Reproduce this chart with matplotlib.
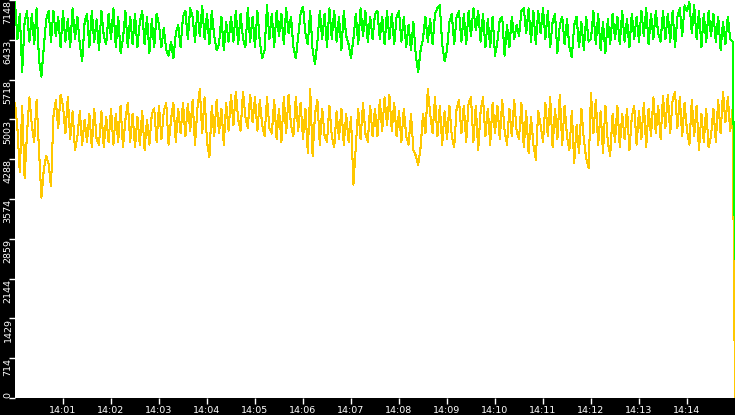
import matplotlib
matplotlib.use("Agg")
import matplotlib.pyplot as plt
import pandas as pd

# ---- data ----
start_time = "2024-01-01 14:00:00"
sample_seconds = 3

green_values = [
    7120, 6450, 6900, 5860, 6750, 6950, 6400, 6900, 6350, 7000,
    6070, 5770, 6300, 6800, 6950, 6400, 6950, 6500, 6850, 6300,
    6950, 6400, 6800, 6300, 7000, 6450, 6850, 6350, 6050, 6750,
    6900, 6300, 6950, 6400, 6800, 6250, 6950, 6500, 6350, 6900,
    6450, 7000, 6300, 6850, 6200, 6450, 6950, 6300, 6850, 6350,
    6900, 6300, 6750, 6950, 6350, 6850, 6200, 6800, 6300, 6900,
    6700, 6300, 6650, 6250, 6150, 6400, 6100, 6550, 6700, 6300,
    6850, 6950, 6450, 7000, 6850, 6400, 6950, 6500, 7050, 6450,
    6900, 6350, 6950, 6500, 6250, 6350, 6850, 6250, 6750, 6400,
    6850, 6400, 6950, 6350, 6900, 6450, 6300, 7000, 6400, 6850,
    6300, 6950, 6400, 6100, 6250, 7050, 6450, 6900, 6300, 6950,
    6500, 6900, 6350, 7000, 6550, 6850, 6300, 6100, 6500, 6900,
    7030, 6550, 6350, 6950, 6250, 6000, 6400, 6950, 6450, 6900,
    6300, 7000, 6450, 6950, 6400, 6850, 6250, 6950, 6500, 6350,
    6100, 6450, 6900, 6350, 7000, 6500, 6950, 6400, 6850, 6450,
    6900, 6950, 6450, 6850, 6350, 6950, 6450, 6900, 6350, 6850,
    6950, 6400, 6850, 6300, 6700, 6250, 6750, 6150, 5850, 6250,
    6450, 6850, 6400, 6800, 6350, 6900, 7000, 7060, 6350, 6050,
    6250, 6750, 6900, 6350, 6850, 6950, 6400, 6900, 6350, 6950,
    6500, 7000, 6600, 6950, 6400, 6900, 6300, 6800, 6300, 6850,
    6150, 6400, 6800, 6850, 6150, 6700, 6300, 6850, 6450, 6700,
    6500, 6950, 7000, 6550, 7000, 6400, 6950, 6350, 6950, 6550,
    7000, 6450, 6950, 6300, 6750, 6900, 6200, 6700, 6850, 6350,
    6800, 6300, 6120, 6700, 6850, 6300, 6750, 6250, 6850, 6400,
    6450, 6950, 6350, 6900, 6250, 6750, 6200, 6800, 6350, 6900,
    6450, 6850, 6350, 6950, 6400, 6800, 6300, 6900, 6450, 6850,
    6400, 6950, 6500, 7000, 6350, 6900, 6450, 6950, 6550, 6400,
    6950, 6450, 6900, 6400, 6950, 6300, 6850, 7000, 6500, 7050,
    6950, 7110, 6550, 7050, 6450, 6950, 6300, 6900, 6400, 6950,
    6500, 6900, 6400, 6850, 6250, 6750, 6350, 6850, 6450, 6400,
    2500,
]

yellow_values = [
    5300, 4850, 4050, 5250, 3950, 4750, 5400, 4900, 4600, 5350,
    4450, 3600, 4100, 4350, 4200, 3800, 5050, 5350, 4850, 5450,
    5250, 4750, 5400, 4650, 5150, 4450, 4700, 5150, 4550, 5000,
    4600, 5100, 4500, 5200, 4650, 4550, 5150, 4500, 5050, 4600,
    5200, 4550, 5100, 4600, 5250, 4500, 5000, 5300, 4600, 5100,
    4500, 5050, 4550, 5150, 4450, 5000, 4550, 5100, 5200, 4600,
    5250, 4650, 5150, 5300, 4550, 5000, 5300, 4600, 5200, 4750,
    5300, 4700, 5280, 4800, 5350, 4550, 5200, 5550, 4750, 5400,
    4600, 4330, 5250, 4700, 5350, 4750, 5200, 4550, 5300, 4800,
    5450, 4900, 5500, 5000, 4800, 5500, 5050, 4850, 5450, 4950,
    5400, 4800, 5350, 4900, 4700, 5400, 4850, 4750, 5350, 4650,
    5200, 4600, 5400, 4750, 5450, 4900, 4700, 5400, 4800, 5300,
    4650, 5200, 4400, 5550, 4350, 5100, 5350, 4550, 5200, 4700,
    4600, 5250, 4700, 4500, 5150, 4650, 5200, 4550, 5100, 4600,
    5050, 3830, 4500, 5200, 4650, 5300, 4750, 4600, 5250, 4700,
    5200, 4700, 5350, 4800, 5400, 4900, 5440, 4800, 5300, 4700,
    5150, 4600, 5200, 4700, 4550, 5100, 4450, 4350, 4190, 4500,
    5100, 4750, 5550, 5100, 4750, 5400, 4700, 5250, 4550, 5150,
    4650, 5250, 4700, 4500, 5200, 5350, 4750, 5250, 4600, 5300,
    5400, 4600, 5250, 4450, 5150, 5400, 4700, 5200, 4550, 5300,
    4750, 5250, 4650, 5350, 4800, 4550, 5200, 4700, 5350, 4800,
    4650, 5300, 4500, 5150, 4400, 5050, 4550, 4280, 5150, 4900,
    4600, 5300, 4700, 5400, 4500, 5200, 4650, 5450, 4550, 5250,
    4700, 4450, 5150, 4220, 4900, 4400, 5200, 4650, 4300, 4130,
    5480, 4750, 5350, 4550, 5150, 4400, 5250, 4600, 4350, 5100,
    4600, 5250, 4500, 5100, 4650, 5200, 4450, 5050, 5250, 4550,
    5150, 4650, 5300, 4500, 5200, 4700, 5400, 4750, 5250, 4650,
    5420, 4850, 5450, 4750, 5350, 5500, 4850, 5400, 4700, 5300,
    4800, 4550, 5350, 4700, 5250, 4450, 5100, 4600, 5200, 4500,
    4700, 5200, 4600, 5350, 4750, 5500, 4950, 5400, 4800, 5200,
    0,
]

y_max = 7148
y_tick_values = [0, 714, 1429, 2144, 2859, 3574, 4288, 5003, 5718, 6433, 7148]
x_tick_labels = ["14:01", "14:02", "14:03", "14:04", "14:05", "14:06", "14:07",
                 "14:08", "14:09", "14:10", "14:11", "14:12", "14:13", "14:14"]

# ---- figure ----
W, H = 735, 415
fig = plt.figure(figsize=(W / 100, H / 100), dpi=100, facecolor="black")
ax = fig.add_axes([15 / W, 17 / H, 720 / W, 398 / H])
ax.set_facecolor("white")

t0 = pd.Timestamp(start_time)
times = pd.date_range(start_time, periods=len(green_values) - 1,
                      freq=f"{sample_seconds}s")
# final sample sits at the right edge (14:15:00)
times = times.append(pd.DatetimeIndex([t0 + pd.Timedelta(minutes=15)]))

ax.plot(times, yellow_values, color="#FFC800", lw=0.75, antialiased=False, zorder=2)
ax.plot(times, green_values, color="#00FF00", lw=0.75, antialiased=False, zorder=3)

ax.set_xlim(t0, t0 + pd.Timedelta(minutes=15))
ax.set_ylim(0, y_max)

tick_times = [t0 + pd.Timedelta(minutes=i + 1) for i in range(len(x_tick_labels))]
ax.set_xticks(tick_times)
ax.set_xticklabels(x_tick_labels)
ax.set_yticks(y_tick_values)
ax.set_yticklabels([str(v) for v in y_tick_values])

for s in ax.spines.values():
    s.set_visible(False)

ax.tick_params(axis="x", colors="white", direction="out", length=4, width=1,
               pad=1.5, labelsize=6.8)
ax.tick_params(axis="y", colors="white", direction="out", length=4, width=1,
               pad=1, labelsize=6.8, labelrotation=90)
for lab in ax.get_yticklabels():
    lab.set_va("top")
    lab.set_ha("center")
ax.get_yticklabels()[0].set_va("bottom")

fig.savefig("out.png", dpi=100, facecolor="black")
